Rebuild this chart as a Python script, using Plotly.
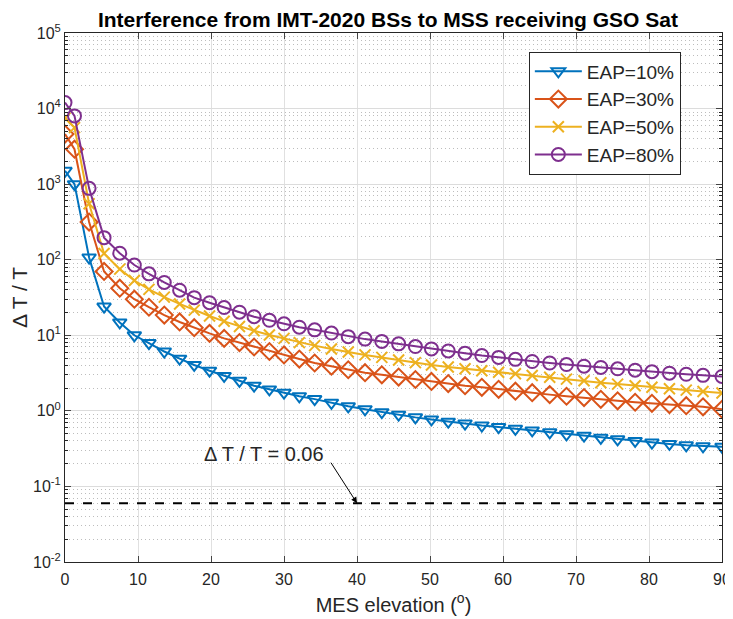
import math
import plotly.graph_objects as go

# Elevation angles (deg)
elev = [0, 1.3, 3.3, 5.35, 7.5, 9.5, 11.5, 13.6, 15.7, 17.7, 19.8, 21.8, 23.9, 25.9,
        28.0, 30.0, 32.1, 34.2, 36.5, 38.8, 41.1, 43.4, 45.7, 48.0, 50.2, 52.5, 54.8,
        57.1, 59.4, 61.7, 64.0, 66.4, 68.7, 71.1, 73.4, 75.7, 78.1, 80.4, 82.8, 85.1,
        87.4, 90.0]

eap10 = [1500, 1000, 107, 24, 14.8, 10.0, 7.9, 6.1, 4.9, 4.05, 3.4, 2.9, 2.5, 2.15,
         1.92, 1.74, 1.56, 1.43, 1.28, 1.15, 1.05, 0.96, 0.89, 0.82, 0.77, 0.72, 0.68,
         0.64, 0.61, 0.58, 0.55, 0.52, 0.49, 0.47, 0.44, 0.42, 0.40, 0.38, 0.365, 0.35,
         0.34, 0.335]

eap30 = [4600, 2900, 315, 70, 42, 30, 23.5, 18.5, 15, 12.6, 10.6, 9.1, 8.0, 7.0,
         6.1, 5.5, 4.85, 4.3, 3.9, 3.5, 3.2, 3.0, 2.8, 2.6, 2.45, 2.3, 2.15,
         2.05, 1.93, 1.82, 1.74, 1.64, 1.56, 1.5, 1.42, 1.36, 1.30, 1.26, 1.21, 1.17,
         1.13, 1.05]

eap50 = [7500, 5600, 550, 121, 75, 53, 40.5, 32, 26, 21.5, 18, 15.3, 13.1, 11.5,
         10.1, 9.1, 8.0, 7.3, 6.6, 6.0, 5.5, 5.1, 4.7, 4.35, 4.05, 3.8, 3.6,
         3.4, 3.25, 3.1, 2.93, 2.78, 2.63, 2.5, 2.36, 2.26, 2.15, 2.05, 1.96, 1.88,
         1.80, 1.72]

eap80 = [12000, 8000, 880, 196, 122, 85, 65, 50, 39.5, 31.5, 27, 23.3, 20.2, 17.6,
         15.8, 14.2, 12.8, 11.8, 10.7, 9.6, 8.9, 8.3, 7.7, 7.1, 6.6, 6.2, 5.8,
         5.4, 5.1, 4.8, 4.5, 4.3, 4.1, 3.9, 3.75, 3.6, 3.45, 3.3, 3.15, 3.05,
         2.95, 2.85]

threshold = 0.06
arrow_x = 40

series_names = ["EAP=10%", "EAP=30%", "EAP=50%", "EAP=80%"]
y_exps = [-2, -1, 0, 1, 2, 3, 4, 5]
x_ticks = [0, 10, 20, 30, 40, 50, 60, 70, 80, 90]

colors = ["#0072BD", "#D95319", "#EDB120", "#7E2F8E"]
symbols = ["triangle-down-open", "diamond-open", "x-thin", "circle-open"]
msizes = [12, 13, 11, 13]

FONT = "Liberation Sans, Arial, sans-serif"

fig = go.Figure()
for name, ys, c, s, ms in zip(series_names, [eap10, eap30, eap50, eap80], colors, symbols, msizes):
    fig.add_trace(go.Scatter(
        x=elev, y=ys, name=name, mode="lines+markers",
        line=dict(color=c, width=2),
        marker=dict(symbol=s, size=ms, color=c, line=dict(color=c, width=2)),
    ))

fig.add_hline(y=threshold, line=dict(color="black", width=2, dash="dash"))

ylog = math.log10(threshold)
fig.add_annotation(x=arrow_x, y=ylog, yref="y", xref="x", text="",
                   showarrow=True, ax=-27, ay=-42, arrowhead=2, arrowsize=1.2,
                   arrowwidth=1, arrowcolor="black")
fig.add_annotation(x=arrow_x, y=ylog, yref="y", xref="x",
                   text="\u0394 T / T = 0.06", showarrow=False,
                   xshift=-93, yshift=49, font=dict(size=20, color="#262626", family=FONT))

minor_vals = [m * 10 ** e for e in range(-2, 5) for m in range(2, 10)]

# the page body has an 8px margin; figure is sized so it fits the 733x619 window
fig.update_layout(
    width=725, height=611,
    margin=dict(l=57, r=11, t=25, b=57),
    paper_bgcolor="white", plot_bgcolor="white",
    font=dict(family=FONT, color="#262626"),
    title=dict(text="<b>Interference from IMT-2020 BSs to MSS receiving GSO Sat</b>",
               x=0.524, xanchor="center", y=1 - 12 / 611, yanchor="middle", yref="container",
               font=dict(size=21, family=FONT, color="black")),
    showlegend=True,
    legend=dict(x=0.706, y=0.965, xanchor="left", yanchor="top",
                bgcolor="white", bordercolor="#262626", borderwidth=1,
                font=dict(size=19, family=FONT, color="#262626"),
                itemwidth=47, tracegroupgap=0),
    xaxis=dict(range=[0, 90], tickvals=x_ticks, ticks="inside", ticklen=6,
               automargin=False, ticklabelstandoff=3,
               showline=True, linecolor="#262626", linewidth=1, mirror="ticks",
               showgrid=True, gridcolor="#e0e0e0", gridwidth=1, zeroline=False,
               tickfont=dict(size=16, family=FONT, color="#262626"),
               title=dict(text="MES elevation (<sup>o</sup>)", standoff=10,
                          font=dict(size=20, family=FONT, color="#262626"))),
    yaxis=dict(type="log", range=[-2, 5],
               tickvals=[10 ** e for e in y_exps],
               ticktext=[f"10<sup>{e}</sup>" for e in y_exps],
               ticks="inside", ticklen=6, automargin=False,
               showline=True, linecolor="#262626", linewidth=1, mirror="ticks",
               showgrid=True, gridcolor="#dcdcdc", gridwidth=1, zeroline=False,
               minor=dict(tickvals=minor_vals, ticks="inside", ticklen=3,
                          tickcolor="#262626", showgrid=True, gridcolor="#bdbdbd",
                          griddash="1px,3px", gridwidth=1),
               tickfont=dict(size=16, family=FONT, color="#262626"),
               title=dict(text="\u0394 T / T", standoff=0,
                          font=dict(size=21, family=FONT, color="#262626"))),
)

fig.write_html("out.html")
